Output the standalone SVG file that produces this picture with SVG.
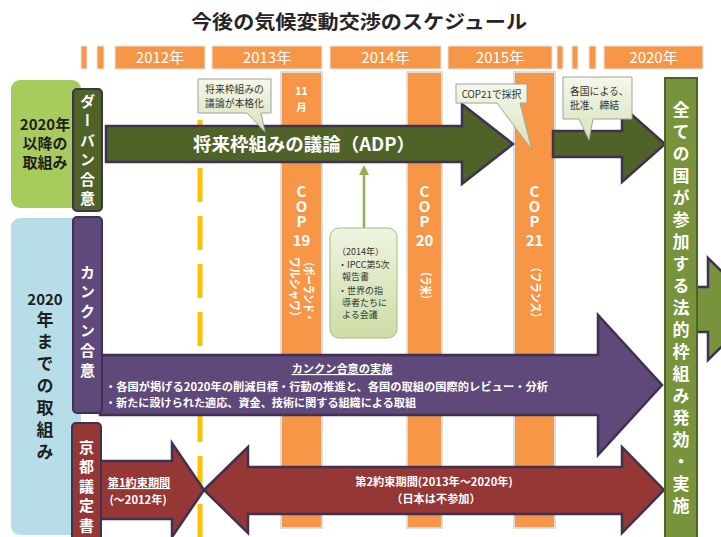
<svg xmlns="http://www.w3.org/2000/svg" width="721" height="537" viewBox="0 0 721 537">
<defs>
<linearGradient id="cg" x1="0" y1="0" x2="0" y2="1"><stop offset="0" stop-color="#F4F8EA"/><stop offset="1" stop-color="#D6E3BA"/></linearGradient>
<linearGradient id="ng" x1="0" y1="0" x2="0" y2="1"><stop offset="0" stop-color="#EEF4E0"/><stop offset="1" stop-color="#CDDDA6"/></linearGradient>
<marker id="ah" viewBox="0 0 10 10" refX="5" refY="5" markerWidth="4" markerHeight="4" orient="auto"><path d="M0,0 L10,5 L0,10 z" fill="#8FB04E"/></marker>
</defs>
<style>
text{font-family:'Noto Sans CJK JP','Noto Sans',sans-serif}
.hdr{fill:#F79646;stroke:#E6E6E6;stroke-width:1}
.ht{fill:#fff;font-size:15px;text-anchor:middle}
.col{fill:#F79646;stroke:#DDDDDD;stroke-width:2}
.w{fill:#fff;font-weight:bold;text-anchor:middle}
.v{fill:#fff;font-weight:bold;writing-mode:vertical-rl}
.vd{fill:#1E1E1E;font-weight:bold;writing-mode:vertical-rl}
.cop{fill:#fff;font-weight:bold;font-size:15px;writing-mode:vertical-rl;text-orientation:upright}
.rot{fill:#fff;font-weight:bold;font-size:12px}
.dk{fill:#1E1E1E;font-weight:bold;text-anchor:middle}
.lab{stroke:#3F3151;stroke-width:2}
.arw{stroke:#3F3151;stroke-width:2.5;stroke-linejoin:miter}
.call{fill:url(#cg);stroke:#A0A0A0;stroke-width:1}
.ct{fill:#333;font-size:9.8px}
.nt{fill:#333;font-size:9px}
.at{fill:#fff;font-weight:bold;font-size:11.2px}
</style>
<rect width="721" height="537" fill="#fff"/>
<text x="359" y="29" font-size="19" font-weight="bold" fill="#262626" text-anchor="middle" textLength="336" lengthAdjust="spacingAndGlyphs">今後の気候変動交渉のスケジュール</text>

<g id="timeline-header">
<rect class="hdr" x="81" y="46" width="6" height="23"/>
<rect class="hdr" x="97" y="46" width="7" height="23"/>
<rect class="hdr" x="115" y="46" width="90" height="23"/>
<rect class="hdr" x="212" y="46" width="110" height="23"/>
<rect class="hdr" x="330" y="46" width="111" height="23"/>
<rect class="hdr" x="448" y="46" width="104" height="23"/>
<rect class="hdr" x="557" y="46" width="6" height="23"/>
<rect class="hdr" x="572" y="46" width="6" height="23"/>
<rect class="hdr" x="589" y="46" width="7" height="23"/>
<rect class="hdr" x="604" y="46" width="99" height="23"/>
<text class="ht" x="160" y="63">2012年</text>
<text class="ht" x="267" y="63">2013年</text>
<text class="ht" x="385.5" y="63">2014年</text>
<text class="ht" x="500" y="63">2015年</text>
<text class="ht" x="653.5" y="63">2020年</text>
</g>

<g id="after2020-box">
<rect x="11" y="80" width="70" height="128" rx="9" fill="#A8CB5E"/>
<text class="dk" font-size="15" x="45" y="130">2020年</text>
<text class="dk" font-size="15" x="45" y="149">以降の</text>
<text class="dk" font-size="15" x="45" y="168">取組み</text>
</g>

<g id="until2020-box">
<rect x="11" y="218" width="70" height="317" rx="9" fill="#B7DEE8"/>
<text class="dk" font-size="15" x="45" y="305">2020</text>
<text class="vd" font-size="17" letter-spacing="5" x="45" y="311.5">年までの取組み</text>
</g>

<g id="cop19">
<rect class="col" x="281" y="72" width="41" height="456"/>
<text class="w" font-size="10.5" x="301.5" y="95">11</text>
<text class="w" font-size="10.5" x="301.5" y="111">月</text>
<text class="cop" x="301.5" y="184">COP</text>
<text class="w" font-size="15" x="301.5" y="246">19</text>
<text class="rot" transform="translate(308.5,257) rotate(90)" y="4.2" textLength="65" lengthAdjust="spacingAndGlyphs">（ポーランド・</text>
<text class="rot" transform="translate(294.5,257) rotate(90)" y="4.2" textLength="65" lengthAdjust="spacingAndGlyphs">ワルシャワ）</text>
</g>

<g id="cop20">
<rect class="col" x="407" y="72" width="35" height="456"/>
<text class="cop" x="424.5" y="184">COP</text>
<text class="w" font-size="15" x="424.5" y="246">20</text>
<text class="rot" transform="translate(425,267) rotate(90)" y="4.2" textLength="37" lengthAdjust="spacingAndGlyphs">（ラ米）</text>
</g>

<g id="cop21">
<rect class="col" x="514" y="72" width="41" height="456"/>
<text class="cop" x="534.5" y="184">COP</text>
<text class="w" font-size="15" x="534.5" y="246">21</text>
<text class="rot" transform="translate(535,262) rotate(90)" y="4.2" textLength="61" lengthAdjust="spacingAndGlyphs">（フランス）</text>
</g>

<g id="connectors">
<line x1="200" y1="120" x2="200" y2="537" stroke="#FFC000" stroke-width="5" stroke-dasharray="34 14"/>
<line x1="364" y1="228" x2="364" y2="170" stroke="#8FB04E" stroke-width="2.5" marker-end="url(#ah)"/>
</g>

<g id="ipcc-note">
<rect x="330" y="228" width="67" height="110" rx="9" fill="url(#ng)" stroke="#A4BE72" stroke-width="1"/>
<text class="nt" x="337" y="255">（2014年）</text>
<text class="nt" x="338" y="268">・IPCC第5次</text>
<text class="nt" x="342" y="280">報告書</text>
<text class="nt" x="338" y="294">・世界の指</text>
<text class="nt" x="342" y="306">導者たちに</text>
<text class="nt" x="342" y="318">よる会議</text>
</g>

<g id="adp-arrow">
<polygon class="arw" fill="#4F6228" points="106,126 462,126 462,104 513,144 462,184 462,162 106,162"/>
<text x="193" y="151" font-size="18" font-weight="bold" fill="#fff" textLength="222" lengthAdjust="spacingAndGlyphs">将来枠組みの議論（ADP）</text>
</g>

<g id="ratify-arrow">
<polygon class="arw" fill="#4F6228" points="553,131 622,131 622,106 665,144 622,182 622,157 553,157"/>
</g>

<g id="cancun-arrow">
<polygon class="arw" fill="#5F497A" points="100,355 598,355 598,315 662,385 598,455 598,415 100,415"/>
<text class="at" x="342" y="373" font-size="12" text-anchor="middle" text-decoration="underline">カンクン合意の実施</text>
<text class="at" x="105" y="391" textLength="443" lengthAdjust="spacingAndGlyphs">・各国が掲げる2020年の削減目標・行動の推進と、各国の取組の国際的レビュー・分析</text>
<text class="at" x="105" y="407" textLength="311" lengthAdjust="spacingAndGlyphs">・新たに設けられた適応、資金、技術に関する組織による取組</text>
</g>

<g id="kyoto-period1">
<polygon class="arw" fill="#953735" points="100,461 172,461 172,443 204,490 172,537 172,519 100,519"/>
<text class="at" x="139" y="487" font-size="11" text-anchor="middle" text-decoration="underline">第1約束期間</text>
<text class="at" x="138" y="504" font-size="11" text-anchor="middle">(～2012年)</text>
</g>

<g id="kyoto-period2">
<polygon class="arw" fill="#953735" points="204,490 248,447 248,467 622,467 622,447 664,490 622,533 622,514 248,514 248,533"/>
<text class="at" x="434" y="486" font-size="11" text-anchor="middle">第2約束期間(2013年～2020年)</text>
<text class="at" x="436" y="503" font-size="11" text-anchor="middle">（日本は不参加）</text>
</g>

<g id="durban-label">
<rect class="lab" x="73" y="89" width="29" height="122" rx="4" fill="#4F6228"/>
<text class="v" font-size="15" letter-spacing="4.5" x="87.5" y="93.5">ダーバン合意</text>
</g>

<g id="cancun-label">
<rect class="lab" x="73" y="217" width="29" height="196" rx="4" fill="#5F497A"/>
<text class="v" font-size="15" letter-spacing="4.6" x="87.5" y="264.5">カンクン合意</text>
</g>

<g id="kyoto-label">
<rect class="lab" x="72" y="423" width="29" height="124" rx="4" fill="#953735"/>
<text class="v" font-size="15" letter-spacing="4.5" x="86.5" y="439.5">京都議定書</text>
</g>

<g id="all-countries">
<polygon class="arw" fill="#77933C" points="690,287 708,287 708,258 760,309 708,360 708,332 690,332"/>
<rect x="665" y="78" width="32" height="470" fill="#77933C" stroke="#4F6228" stroke-width="2"/>
<text class="v" font-size="17" letter-spacing="5" x="681" y="101.5">全ての国が参加する法的枠組み発効・実施</text>
</g>

<g id="callout-2013">
<path class="call" d="M198,79 H271 V113 H261 L265,132 L247,113 H198 Z"/>
<text class="ct" x="234.5" y="93" text-anchor="middle">将来枠組みの</text>
<text class="ct" x="234.5" y="107" text-anchor="middle">議論が本格化</text>
</g>

<g id="callout-cop21">
<path class="call" d="M456,84 H527 V103 H520 L532,150 L497,103 H456 Z"/>
<text class="ct" x="491.5" y="97.5" text-anchor="middle">COP21で採択</text>
</g>

<g id="callout-ratify">
<path class="call" d="M563,77 H632 V119 H593 L589,140 L579,119 H563 Z"/>
<text class="ct" x="570" y="95">各国による、</text>
<text class="ct" x="570" y="109">批准、締結</text>
</g>
</svg>
